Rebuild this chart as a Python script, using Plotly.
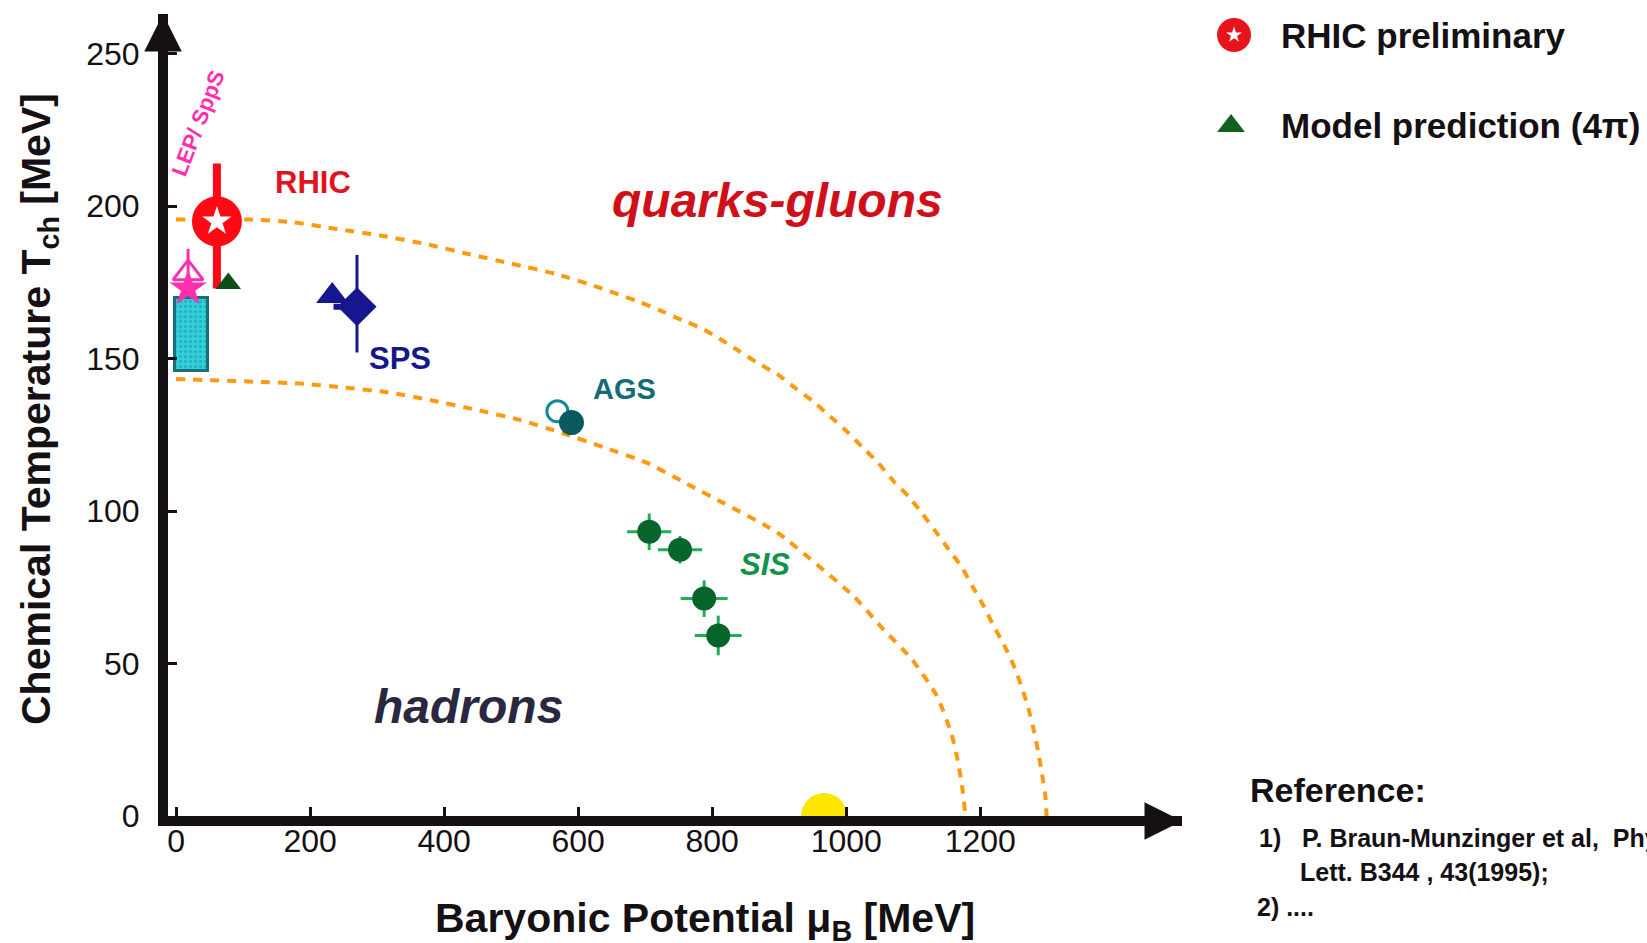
import plotly.graph_objects as go

# ---------------- data ----------------
# chemical freeze-out curves (mu_B in MeV, T in MeV)
outer_mu = [0, 110, 175, 240, 307, 372, 436, 501, 566, 630, 692, 722, 755, 785, 815, 842, 869, 899,
            924, 951, 976, 1001, 1023, 1048, 1071, 1093, 1113, 1133, 1153, 1173, 1188, 1205, 1220,
            1235, 1250, 1262, 1272, 1280, 1287, 1292, 1297, 1299]
outer_T = [195.6, 195.6, 194.7, 192.5, 190.3, 187.6, 184.3, 181.1, 177.8, 173.4, 168.5, 165.8, 162.6,
           159.9, 156.0, 152.2, 148.4, 144.6, 140.3, 135.9, 131.0, 126.1, 121.2, 115.7, 109.7, 104.8,
           99.3, 93.4, 87.4, 81.4, 75.4, 68.9, 62.3, 56.3, 49.3, 42.2, 35.1, 28.0, 20.4, 13.9, 6.8, 0]
inner_mu = [0, 120, 185, 252, 317, 384, 446, 511, 576, 638, 703, 760, 817, 877, 904, 1011, 1053,
            1098, 1135, 1157, 1167, 1173, 1178]
inner_T = [143.3, 142.4, 141.8, 140.5, 138.9, 136.2, 133.3, 130.0, 125.6, 120.9, 115.8, 109.2, 102.6,
           95.6, 91.9, 72.1, 61.8, 51.4, 39.5, 27.0, 17.5, 9.5, 0]

# RHIC preliminary
rhic_mu, rhic_T = [61], [195]
rhic_T_up, rhic_T_dn = [19], [22]
# model prediction (4pi)
model_mu, model_T = [78], [174.6]
# LEP / SppS
lep_tri_mu, lep_tri_T, lep_tri_up = [18], [178], [8]
lep_star_mu, lep_star_T = [18], [173]
lep_box_mu = [-1.5, 48]
lep_box_T = [146, 170]
# SPS
sps_tri_mu, sps_tri_T = [233], [170.5]
sps_mu, sps_T = [270], [167]
sps_T_up, sps_T_dn, sps_mu_dn = [17], [15], [35]
# AGS
ags_open_mu, ags_open_T = [569], [132.7]
ags_mu, ags_T = [590], [129]
# SIS
sis_mu = [706, 752, 788, 809]
sis_T = [93.2, 87.3, 71.3, 59.2]
sis_dmu = [33, 33, 35, 35]
sis_dT = [6, 4.5, 6, 6.5]
# nuclear matter ground state
nuc_mu, nuc_T = [967], [0]

x_ticks = [0, 200, 400, 600, 800, 1000, 1200]
y_ticks = [0, 50, 100, 150, 200, 250]

legend_labels = ["RHIC preliminary", "Model prediction (4\u03c0)"]

# ---------------- styles ----------------
INK = "#151013"
SANS = "Liberation Sans, Arial, sans-serif"
RED = "#ff0a14"
ORANGE = "#ff9a10"
PINK = "#ff2fae"
NAVY = "#16168f"
TEAL = "#138a98"
TEAL_DARK = "#0b5a62"
SIS_GREEN = "#07652b"
MODEL_GREEN = "#0d4d16"

fig = go.Figure()

# LEP/SppS band
fig.add_trace(go.Bar(
    x=[(lep_box_mu[0] + lep_box_mu[1]) / 2], width=[lep_box_mu[1] - lep_box_mu[0]],
    base=[lep_box_T[0]], y=[lep_box_T[1] - lep_box_T[0]],
    marker=dict(color="#2bbfcf", line=dict(color="#16727a", width=3),
                pattern=dict(shape=".", fgcolor="#1a9aa4", bgcolor="#33d0dc", size=5, solidity=0.35)),
    hoverinfo="skip"))

# freeze-out curves
for mu, T in ((outer_mu, outer_T), (inner_mu, inner_T)):
    fig.add_trace(go.Scatter(x=mu, y=T, mode="lines",
                             line=dict(color=ORANGE, width=4, dash="9px,8px", shape="spline", smoothing=0.5),
                             hoverinfo="skip"))

# nuclear matter point (clipped by the axis)
fig.add_trace(go.Scatter(x=nuc_mu, y=nuc_T, mode="markers",
                         marker=dict(symbol="circle", size=46, color="#ffe600", line=dict(width=0))))

# LEP / SppS markers
fig.add_trace(go.Scatter(x=lep_tri_mu, y=lep_tri_T, mode="markers",
                         marker=dict(symbol="triangle-up-open", size=26, color=PINK, line=dict(width=3, color=PINK)),
                         error_y=dict(type="data", array=lep_tri_up, arrayminus=[0], color=PINK, thickness=3, width=0)))
fig.add_trace(go.Scatter(x=lep_star_mu, y=lep_star_T, mode="markers",
                         marker=dict(symbol="star", size=28, color=PINK, line=dict(width=0))))

# RHIC
fig.add_trace(go.Scatter(x=rhic_mu, y=rhic_T, mode="markers",
                         marker=dict(symbol="circle", size=50, color=RED, line=dict(width=0)),
                         error_y=dict(type="data", array=rhic_T_up, arrayminus=rhic_T_dn, color=RED, thickness=8, width=0)))
fig.add_trace(go.Scatter(x=rhic_mu, y=rhic_T, mode="markers",
                         marker=dict(symbol="star", size=22, color="white", line=dict(width=0))))

# model prediction
fig.add_trace(go.Scatter(x=model_mu, y=model_T, mode="markers",
                         marker=dict(symbol="triangle-up", size=22, color=MODEL_GREEN, line=dict(width=0))))

# SPS
fig.add_trace(go.Scatter(x=sps_tri_mu, y=sps_tri_T, mode="markers",
                         marker=dict(symbol="triangle-up", size=28, color=NAVY, line=dict(width=0))))
fig.add_trace(go.Scatter(x=sps_mu, y=sps_T, mode="markers",
                         marker=dict(symbol="diamond", size=30, color=NAVY, line=dict(width=0)),
                         error_y=dict(type="data", array=sps_T_up, arrayminus=sps_T_dn, color=NAVY, thickness=3, width=0),
                         error_x=dict(type="data", array=[0], arrayminus=sps_mu_dn, color=NAVY, thickness=6, width=0)))

# AGS
fig.add_trace(go.Scatter(x=ags_open_mu, y=ags_open_T, mode="markers",
                         marker=dict(symbol="circle-open", size=21, color=TEAL, line=dict(width=3, color=TEAL))))
fig.add_trace(go.Scatter(x=ags_mu, y=ags_T, mode="markers",
                         marker=dict(symbol="circle", size=25, color=TEAL_DARK, line=dict(width=0))))

# SIS
fig.add_trace(go.Scatter(x=sis_mu, y=sis_T, mode="markers",
                         marker=dict(symbol="circle", size=24, color=SIS_GREEN, line=dict(width=0)),
                         error_x=dict(type="data", array=sis_dmu, color="#1fae55", thickness=3, width=0),
                         error_y=dict(type="data", array=sis_dT, color="#1fae55", thickness=3, width=0)))

# ---------------- legend keys on a hidden side panel ----------------
fig.add_trace(go.Scatter(x=[34], y=[0], xaxis="x2", yaxis="y2", mode="markers",
                         marker=dict(symbol="circle", size=34, color="#e8141c", line=dict(width=0))))
fig.add_trace(go.Scatter(x=[34], y=[0], xaxis="x2", yaxis="y2", mode="markers",
                         marker=dict(symbol="star", size=12, color="white", line=dict(width=0))))
fig.add_trace(go.Scatter(x=[31], y=[1], xaxis="x2", yaxis="y2", mode="markers",
                         marker=dict(symbol="triangle-up", size=24, color="#12601f", line=dict(width=0))))

annotations = []
for i, lab in enumerate(legend_labels):
    annotations.append(dict(x=79, y=i, xref="x2", yref="y2", text=lab, showarrow=False,
                            xanchor="left", yanchor="middle",
                            font=dict(family=SANS, size=35, color=INK, weight="bold")))


# in-plot labels
def label(x, y, text, color, size, italic=False, angle=0):
    annotations.append(dict(x=x, y=y, xref="x", yref="y", text=text, showarrow=False, textangle=angle,
                            xanchor="center", yanchor="middle",
                            font=dict(family=SANS, size=size, color=color, weight="bold",
                                      style="italic" if italic else "normal")))


label(204, 207.6, "RHIC", "#e0141e", 31)
label(898, 202, "quarks-gluons", "#d01018", 48, italic=True)
label(436, 36, "hadrons", "#2a2840", 48, italic=True)
label(334, 150, "SPS", NAVY, 31)
label(669, 140, "AGS", "#136b78", 29)
label(879, 82.4, "SIS", "#12924a", 31, italic=True)
label(33, 227, "LEP/ SppS", PINK, 22, angle=-69)

# axis titles
annotations.append(dict(x=-0.0872, y=0.5075, xref="paper", yref="paper", showarrow=False, textangle=-90,
                        xanchor="center", yanchor="middle",
                        text="Chemical Temperature T<sub>ch</sub> [MeV]",
                        font=dict(family=SANS, size=41, color=INK, weight="bold")))
annotations.append(dict(x=0.3631, y=-0.1309, xref="paper", yref="paper", showarrow=False,
                        xanchor="center", yanchor="middle",
                        text="Baryonic Potential \u03bc<sub>B</sub> [MeV]",
                        font=dict(family=SANS, size=41, color=INK, weight="bold")))

# axis arrowheads
annotations.append(dict(x=0.6856, y=0, xref="paper", yref="paper", yshift=-5, ax=-34, ay=0, text="",
                        showarrow=True, arrowhead=2, arrowsize=0.75, arrowwidth=10, arrowcolor=INK))
annotations.append(dict(x=0, y=1, xref="paper", yref="paper", xshift=-5, ax=0, ay=40, text="",
                        showarrow=True, arrowhead=2, arrowsize=0.75, arrowwidth=10, arrowcolor=INK))

# reference block
ref_lines = [
    (0.7302, 0.0324, "Reference:", 34),
    (0.7363, -0.0274, "1)&nbsp;&nbsp;&nbsp;P. Braun-Munzinger et al,&nbsp;&nbsp;Phys.", 25),
    (0.7640, -0.0698, "Lett. B344 , 43(1995);", 25),
    (0.7350, -0.1135, "2) ....", 25),
]
for x, y, t, s in ref_lines:
    annotations.append(dict(x=x, y=y, xref="paper", yref="paper", text=t, showarrow=False,
                            xanchor="left", yanchor="middle",
                            font=dict(family=SANS, size=s, color=INK, weight="bold")))

fig.update_layout(
    width=1647, height=943,
    margin=dict(l=168, r=0, t=14, b=127),
    plot_bgcolor="white", paper_bgcolor="white",
    showlegend=False, bargap=0,
    annotations=annotations,
    xaxis=dict(domain=[0, 0.6856], range=[-12, 1501], showgrid=False, zeroline=False,
               showline=True, linewidth=10, linecolor=INK,
               ticks="inside", ticklen=9, tickwidth=3, tickcolor=INK,
               tickvals=x_ticks, ticktext=[str(v) for v in x_ticks],
               tickfont=dict(family=SANS, size=32, color=INK), ticklabelstandoff=-12),
    yaxis=dict(domain=[0, 1], range=[0, 263], showgrid=False, zeroline=False,
               showline=True, linewidth=10, linecolor=INK,
               ticks="inside", ticklen=9, tickwidth=3, tickcolor=INK,
               tickvals=y_ticks, ticktext=[str(v) for v in y_ticks],
               tickfont=dict(family=SANS, size=32, color=INK), ticklabelstandoff=12),
    xaxis2=dict(domain=[0.6978, 1], range=[0, 447], visible=False, anchor="y2"),
    yaxis2=dict(domain=[0.8055, 1], range=[1.484, -0.231], visible=False, anchor="x2"),
)

fig.write_html("out.html")
